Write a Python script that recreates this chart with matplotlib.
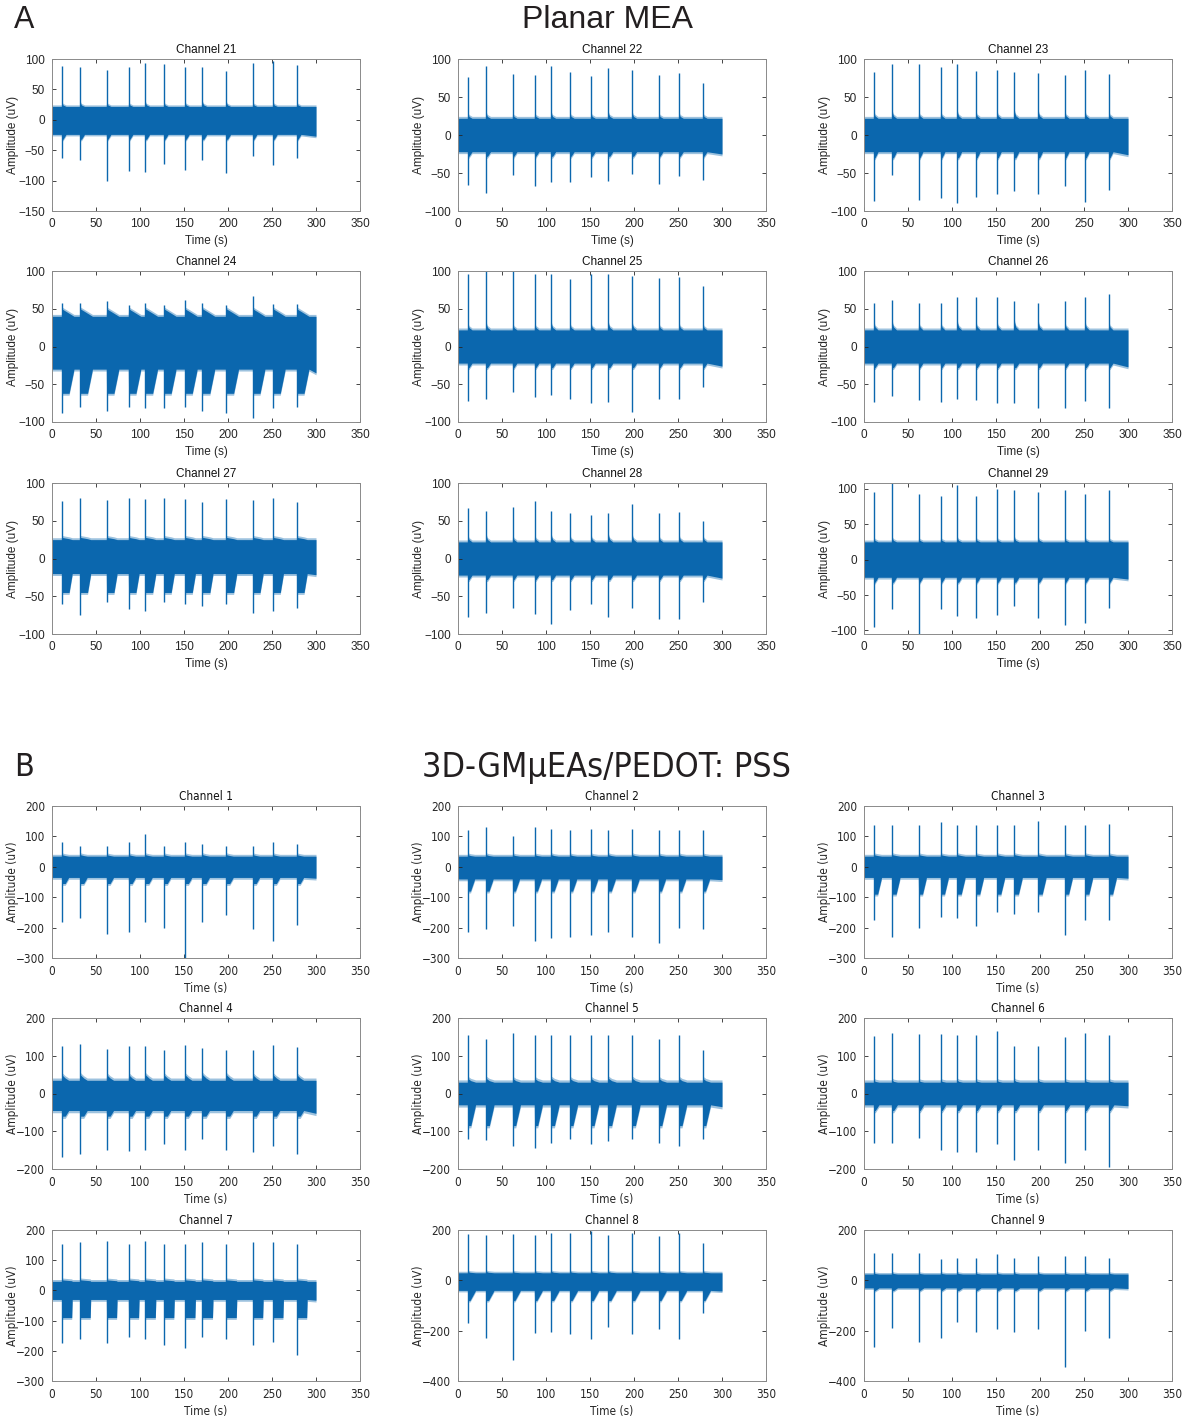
import numpy as np
import matplotlib.pyplot as plt

# ==========================
# SPIKE DATA (uV)
# ==========================

spike_t = [11, 32, 62, 87, 106, 127, 151, 171, 198, 228, 251, 278]

# Planar MEA
ch21_peak = [88, 87, 82, 87, 94, 91, 87, 87, 81, 93, 97, 90]
ch21_trough = [-63, -66, -101, -84, -86, -72, -83, -66, -87, -60, -75, -63]
ch22_peak = [76, 91, 80, 79, 91, 83, 77, 88, 86, 79, 82, 68]
ch22_trough = [-66, -76, -52, -67, -62, -62, -55, -60, -51, -64, -54, -59]
ch23_peak = [83, 94, 94, 90, 94, 84, 85, 83, 81, 79, 85, 80]
ch23_trough = [-87, -53, -85, -83, -90, -82, -77, -74, -78, -67, -88, -73]
ch24_peak = [58, 58, 60, 55, 58, 55, 62, 57, 55, 67, 56, 56]
ch24_trough = [-88, -80, -85, -80, -82, -82, -80, -85, -88, -95, -82, -80]
ch25_peak = [96, 100, 100, 96, 96, 90, 96, 96, 94, 91, 92, 80]
ch25_trough = [-72, -70, -60, -67, -64, -69, -75, -74, -87, -70, -70, -54]
ch26_peak = [57, 62, 57, 58, 65, 65, 65, 60, 58, 60, 65, 70]
ch26_trough = [-74, -65, -71, -74, -70, -71, -75, -75, -82, -81, -72, -82]
ch27_peak = [76, 80, 77, 80, 79, 80, 79, 75, 79, 77, 80, 75]
ch27_trough = [-60, -75, -58, -67, -70, -57, -60, -63, -60, -72, -70, -66]
ch28_peak = [67, 63, 68, 76, 63, 60, 57, 60, 72, 60, 62, 50]
ch28_trough = [-78, -72, -65, -74, -87, -68, -60, -77, -65, -80, -80, -57]
ch29_peak = [95, 108, 92, 90, 105, 90, 100, 98, 95, 98, 92, 98]
ch29_trough = [-95, -70, -105, -70, -80, -82, -78, -65, -82, -93, -90, -68]

# 3D-GMuEAs/PEDOT:PSS
ch1_peak = [80, 70, 70, 80, 107, 70, 82, 75, 70, 70, 82, 75]
ch1_trough = [-180, -168, -222, -215, -183, -200, -300, -180, -157, -205, -243, -190]
ch2_peak = [122, 130, 100, 130, 125, 122, 125, 122, 125, 120, 122, 120]
ch2_trough = [-215, -205, -195, -243, -235, -230, -225, -215, -230, -250, -200, -205]
ch3_peak = [137, 137, 137, 147, 137, 137, 137, 137, 150, 137, 137, 140]
ch3_trough = [-175, -230, -200, -165, -170, -195, -148, -155, -150, -225, -175, -175]
ch4_peak = [127, 130, 118, 127, 127, 115, 128, 120, 115, 115, 128, 122]
ch4_trough = [-168, -160, -150, -152, -150, -135, -150, -120, -150, -155, -140, -160]
ch5_peak = [155, 145, 160, 155, 155, 155, 155, 155, 155, 145, 155, 115]
ch5_trough = [-120, -122, -140, -145, -130, -120, -135, -125, -120, -130, -140, -120]
ch6_peak = [152, 160, 158, 158, 155, 155, 165, 125, 125, 150, 160, 155]
ch6_trough = [-130, -130, -118, -150, -155, -155, -135, -175, -150, -185, -150, -195]
ch7_peak = [155, 160, 165, 155, 165, 155, 155, 160, 155, 160, 160, 155]
ch7_trough = [-175, -160, -175, -155, -160, -180, -190, -155, -160, -180, -170, -215]
ch8_peak = [185, 180, 185, 180, 190, 190, 195, 180, 190, 175, 190, 150]
ch8_trough = [-170, -230, -315, -210, -205, -215, -235, -185, -215, -195, -235, -130]
ch9_peak = [110, 110, 110, 85, 90, 90, 105, 90, 95, 95, 95, 90]
ch9_trough = [-265, -190, -245, -230, -165, -205, -195, -205, -195, -345, -200, -230]

# noise band: upper / lower level, post-spike bump, burst floor,
# burst length (s) and the share of it held at the floor
band_hi_A = [22, 22, 22, 40, 22, 22, 25, 22, 25]
band_lo_A = [-24, -22, -22, -30, -22, -22, -20, -22, -25]
bump_A = [6, 6, 8, 10, 8, 10, 3, 8, 5]
burst_lo_A = [-32, -28, -30, -62, -28, -28, -45, -28, -32]
burst_len_A = [5, 5, 5, 14, 5, 5, 12, 5, 5]
burst_hold_A = [0.3, 0.3, 0.3, 0.6, 0.3, 0.3, 0.7, 0.3, 0.3]

band_hi_B = [35, 35, 35, 35, 30, 30, 30, 30, 25]
band_lo_B = [-35, -40, -35, -45, -30, -30, -30, -40, -30]
bump_B = [5, 5, 5, 15, 10, 5, 5, 5, 5]
burst_lo_B = [-55, -80, -90, -60, -85, -45, -90, -80, -40]
burst_len_B = [8, 8, 9, 8, 9, 6, 12, 9, 6]
burst_hold_B = [0.5, 0.4, 0.5, 0.5, 0.4, 0.3, 0.95, 0.3, 0.3]

names_A = ["Channel 21", "Channel 22", "Channel 23",
           "Channel 24", "Channel 25", "Channel 26",
           "Channel 27", "Channel 28", "Channel 29"]
names_B = ["Channel 1", "Channel 2", "Channel 3",
           "Channel 4", "Channel 5", "Channel 6",
           "Channel 7", "Channel 8", "Channel 9"]

peaks_A = [ch21_peak, ch22_peak, ch23_peak, ch24_peak, ch25_peak,
           ch26_peak, ch27_peak, ch28_peak, ch29_peak]
troughs_A = [ch21_trough, ch22_trough, ch23_trough, ch24_trough, ch25_trough,
             ch26_trough, ch27_trough, ch28_trough, ch29_trough]
peaks_B = [ch1_peak, ch2_peak, ch3_peak, ch4_peak, ch5_peak,
           ch6_peak, ch7_peak, ch8_peak, ch9_peak]
troughs_B = [ch1_trough, ch2_trough, ch3_trough, ch4_trough, ch5_trough,
             ch6_trough, ch7_trough, ch8_trough, ch9_trough]

ylims_A = [(-150, 100), (-100, 100), (-100, 100),
           (-100, 100), (-100, 100), (-100, 100),
           (-100, 100), (-100, 100), (-105, 108)]
yticks_A = [50, 50, 50, 50, 50, 50, 50, 50, 50]
ylims_B = [(-300, 200), (-300, 200), (-300, 200),
           (-200, 200), (-200, 200), (-200, 200),
           (-300, 200), (-400, 200), (-400, 200)]
yticks_B = [100, 100, 100, 100, 100, 100, 100, 200, 200]

T_END = 300
BLUE = "#0B67AE"

# ==========================
# FIGURE
# ==========================

plt.rcParams["font.family"] = ["Liberation Sans", "DejaVu Sans"]
font_A = dict(family=["Liberation Sans", "DejaVu Sans"])
font_B = dict(family=["DejaVu Sans"], stretch="condensed")

fig = plt.figure(figsize=(11.9, 14.2), dpi=100)
W, H = 1190, 1420

col_left = [52, 458, 864]
ax_w = 308
rows_A = [(59, 211), (271, 422), (483, 634)]
rows_B = [(806, 958), (1018, 1169), (1230, 1381)]


def band_edges(hi, lo, bump, burst_lo, burst_len, hold):
    # envelope vertices of the noise band around each burst
    xs, top, bot = [0], [hi], [lo]
    for t in spike_t:
        xs += [t - 0.2, t, t + burst_len * hold, t + burst_len]
        top += [hi, hi + bump, hi + bump * 0.4, hi]
        bot += [lo, burst_lo, burst_lo, lo]
    xs.append(T_END)
    top.append(hi)
    bot.append(lo - bump * 0.5)
    return np.array(xs), np.array(top), np.array(bot)


def draw_channel(ax, k, p, font, margin):
    xs, top, bot = band_edges(p["hi"][k], p["lo"][k], p["bump"][k],
                              p["burst_lo"][k], p["burst_len"][k],
                              p["hold"][k])
    ax.fill_between(xs, top + margin, bot - margin, color=BLUE,
                    alpha=0.4, lw=0)
    ax.fill_between(xs, top, bot, color=BLUE, lw=0)
    ax.vlines(spike_t, p["trough"][k], p["peak"][k], color=BLUE, lw=1.0)

    ylim = p["ylim"][k]
    ystep = p["ystep"][k]
    ax.set_xlim(0, 350)
    ax.set_ylim(*ylim)
    ax.set_xticks(np.arange(0, 351, 50))
    y0 = int(np.ceil(ylim[0] / ystep) * ystep)
    ax.set_yticks(np.arange(y0, ylim[1] + 1, ystep))

    ax.tick_params(direction="in", length=3, width=0.6, top=True, right=True,
                   labelsize=8.5, colors="#262626", pad=5)
    for lab in ax.get_xticklabels() + ax.get_yticklabels():
        lab.update(font)
    for s in ax.spines.values():
        s.set_color("#8a8a8a")
        s.set_linewidth(0.7)

    ax.set_title(p["name"][k], fontsize=8.5, pad=4, color="#111111", **font)
    ax.set_xlabel("Time (s)", fontsize=8.5, color="#262626", **font)
    ax.set_ylabel("Amplitude (uV)", fontsize=8.5, color="#262626", **font)
    ax.xaxis.set_label_coords(0.5, -0.16)
    ax.yaxis.set_label_coords(-0.108, 0.5)


def add_panel(rows, p, font, margin):
    k = 0
    for top_px, bot_px in rows:
        for left_px in col_left:
            ax = fig.add_axes([left_px / W, 1 - bot_px / H,
                               ax_w / W, (bot_px - top_px) / H])
            draw_channel(ax, k, p, font, margin)
            k += 1


add_panel(rows_A, dict(name=names_A, peak=peaks_A, trough=troughs_A,
                       hi=band_hi_A, lo=band_lo_A, bump=bump_A,
                       burst_lo=burst_lo_A, burst_len=burst_len_A,
                       hold=burst_hold_A, ylim=ylims_A, ystep=yticks_A),
          font_A, 2.5)
add_panel(rows_B, dict(name=names_B, peak=peaks_B, trough=troughs_B,
                       hi=band_hi_B, lo=band_lo_B, bump=bump_B,
                       burst_lo=burst_lo_B, burst_len=burst_len_B,
                       hold=burst_hold_B, ylim=ylims_B, ystep=yticks_B),
          font_B, 6)

# section headings
fig.text(14 / W, 1 - 20 / H, "A", fontsize=22, va="center", ha="left",
         color="#231f20")
fig.text(608 / W, 1 - 20 / H, "Planar MEA", fontsize=23, va="center",
         ha="center", color="#231f20")
fig.text(14 / W, 1 - 768 / H, "B", fontsize=23, va="center", ha="left",
         color="#231f20", **font_B)
fig.text(607 / W, 1 - 768 / H, "3D-GMμEAs/PEDOT: PSS", fontsize=24.5,
         va="center", ha="center", color="#231f20", **font_B)

plt.savefig("out.png", dpi=100)
plt.close()
